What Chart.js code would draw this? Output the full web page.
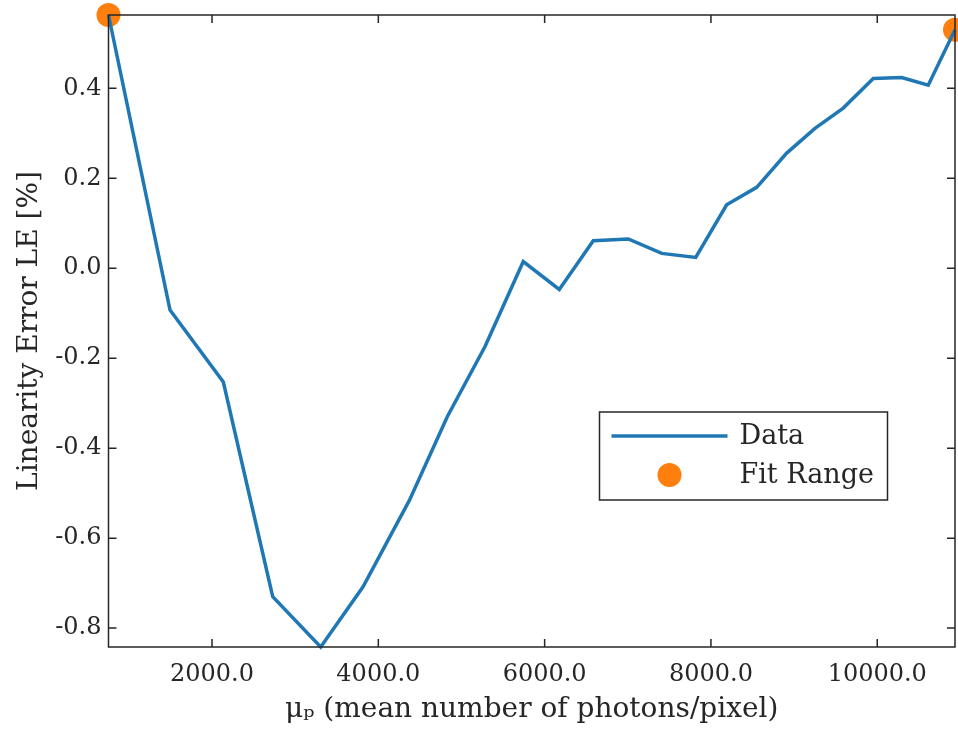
<!DOCTYPE html>
<html>
<head>
<meta charset="utf-8">
<script src="https://cdn.jsdelivr.net/npm/chart.js@4"></script>
<style>
  html, body { margin: 0; padding: 0; background: #fff; }
  #wrap { width: 958px; height: 732px; }
</style>
</head>
<body>
<div id="wrap"><canvas id="leChart" width="958" height="732"></canvas></div>
<script>
// mean photons per pixel and linearity error (%)
const muP = [755, 1495, 2136, 2730, 3307, 3816, 4373, 4829, 5283, 5743, 6176, 6585,
  7006, 7408, 7817, 8189, 8550, 8911, 9251, 9591, 9952, 10294, 10613, 10935]
const linErr = [0.563, -0.093, -0.253, -0.730, -0.842, -0.708, -0.516, -0.330, -0.174,
  0.015, -0.047, 0.061, 0.065, 0.033, 0.024, 0.141, 0.180, 0.256, 0.311, 0.356,
  0.422, 0.424, 0.407, 0.530]
// fit range end points
const fitX = [755, 10935]
const fitY = [0.563, 0.530]
const xTicks = [2000, 4000, 6000, 8000, 10000]
const yTicks = [-0.8, -0.6, -0.4, -0.2, 0.0, 0.2, 0.4]

const blue = "#1f77b4"
const orange = "#ff7f0e"
const ink = "#262626"
const font = "'DejaVu Serif', 'Liberation Serif', serif"

// matlab style box with inward ticks on all four sides
const boxAxes = {
  id: "boxAxes",
  afterDatasetsDraw(chart) {
    const { ctx, chartArea: a, scales } = chart
    ctx.save()
    ctx.strokeStyle = ink
    ctx.lineWidth = 1.5
    ctx.strokeRect(a.left, a.top, a.right - a.left, a.bottom - a.top)
    ctx.beginPath()
    xTicks.forEach(v => {
      const px = scales.x.getPixelForValue(v)
      ctx.moveTo(px, a.bottom); ctx.lineTo(px, a.bottom - 8)
      ctx.moveTo(px, a.top); ctx.lineTo(px, a.top + 8)
    })
    yTicks.forEach(v => {
      const py = scales.y.getPixelForValue(v)
      ctx.moveTo(a.left, py); ctx.lineTo(a.left + 8, py)
      ctx.moveTo(a.right, py); ctx.lineTo(a.right - 8, py)
    })
    ctx.stroke()
    ctx.restore()
  },
}

// legend box inside the axes (lower right)
const boxLegend = {
  id: "boxLegend",
  afterDraw(chart) {
    const { ctx, chartArea: a } = chart
    const ds = chart.data.datasets
    const x0 = a.left + 491, y0 = a.top + 397, w = 288, h = 88
    ctx.save()
    ctx.fillStyle = "#fff"
    ctx.fillRect(x0, y0, w, h)
    ctx.strokeStyle = ink
    ctx.lineWidth = 1.5
    ctx.strokeRect(x0, y0, w, h)
    ctx.strokeStyle = ds[0].borderColor
    ctx.lineWidth = ds[0].borderWidth
    ctx.beginPath()
    ctx.moveTo(x0 + 12, y0 + 24); ctx.lineTo(x0 + 128, y0 + 24)
    ctx.stroke()
    ctx.fillStyle = ds[1].backgroundColor
    ctx.beginPath()
    ctx.arc(x0 + 70, y0 + 63, 12, 0, Math.PI * 2)
    ctx.fill()
    ctx.fillStyle = ink
    ctx.font = "27px " + font
    ctx.textBaseline = "middle"
    ctx.fillText(ds[0].label, x0 + 140, y0 + 25)
    ctx.fillText(ds[1].label, x0 + 140, y0 + 64)
    ctx.restore()
  },
}

new Chart(document.getElementById("leChart").getContext("2d"), {
  type: "scatter",
  data: {
    datasets: [
      {
        label: "Data",
        data: muP.map((x, i) => ({ x: x, y: linErr[i] })),
        showLine: true,
        borderColor: blue,
        backgroundColor: blue,
        borderWidth: 3.5,
        pointRadius: 0,
        tension: 0,
        clip: false,
      },
      {
        label: "Fit Range",
        data: fitX.map((x, i) => ({ x: x, y: fitY[i] })),
        showLine: false,
        backgroundColor: orange,
        borderColor: orange,
        pointRadius: 12,
        borderWidth: 0,
        clip: false,
      },
    ],
  },
  options: {
    responsive: false,
    animation: false,
    layout: { autoPadding: false, padding: { top: 15, right: 3, left: 0, bottom: 0 } },
    plugins: { legend: { display: false }, tooltip: { enabled: false } },
    scales: {
      x: {
        type: "linear",
        min: Math.min(...muP),
        max: Math.max(...muP),
        afterBuildTicks: s => { s.ticks = xTicks.map(v => ({ value: v })) },
        afterFit: s => { s.height = 85; s.paddingLeft = 0; s.paddingRight = 0 },
        border: { display: false },
        grid: { display: false, drawTicks: false },
        ticks: {
          color: ink, padding: 13, maxRotation: 0,
          font: { family: font, size: 24 },
          callback: v => v.toFixed(1),
        },
        title: {
          display: true, text: "μₚ (mean number of photons/pixel)", color: ink,
          font: { family: font, size: 28 }, padding: { top: 0, bottom: 5 },
        },
      },
      y: {
        type: "linear",
        min: Math.min(...linErr),
        max: Math.max(...linErr),
        afterBuildTicks: s => { s.ticks = yTicks.map(v => ({ value: v })) },
        afterFit: s => { s.width = 108.5; s.paddingTop = 0; s.paddingBottom = 0 },
        border: { display: false },
        grid: { display: false, drawTicks: false },
        ticks: {
          color: ink, padding: 7,
          font: { family: font, size: 24 },
          callback: v => v.toFixed(1),
        },
        title: {
          display: true, text: "Linearity Error LE [%]", color: ink,
          font: { family: font, size: 28 }, padding: { top: 13, bottom: 0 },
        },
      },
    },
  },
  plugins: [boxAxes, boxLegend],
})
</script>
</body>
</html>
